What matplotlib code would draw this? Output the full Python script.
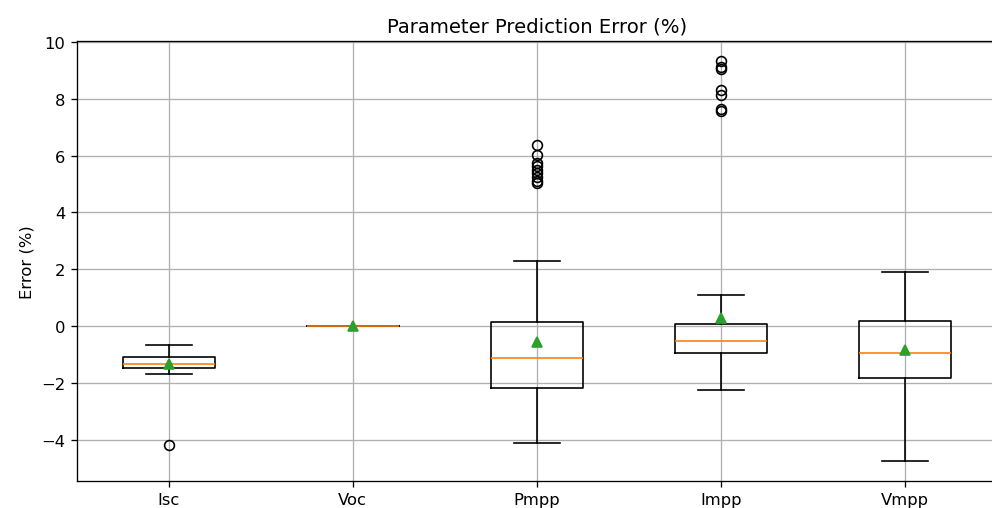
import matplotlib.pyplot as plt

params = ["Isc", "Voc", "Pmpp", "Impp", "Vmpp"]
q1 = [-1.48, 0.0, -2.17, -0.96, -1.84]
med = [-1.32, 0.0, -1.13, -0.53, -0.94]
q3 = [-1.09, 0.0, 0.15, 0.07, 0.17]
whislo = [-1.69, 0.0, -4.10, -2.25, -4.75]
whishi = [-0.67, 0.0, 2.28, 1.09, 1.89]
means = [-1.34, 0.0, -0.56, 0.27, -0.85]
fliers = [
    [-4.19],
    [],
    [6.38, 6.02, 5.74, 5.62, 5.50, 5.38, 5.25, 5.12, 5.03],
    [9.32, 9.10, 9.05, 8.32, 8.12, 7.62, 7.57],
    [],
]

stats = []
for i, name in enumerate(params):
    stats.append(dict(label=name, q1=q1[i], med=med[i], q3=q3[i],
                      whislo=whislo[i], whishi=whishi[i],
                      mean=means[i], fliers=fliers[i]))

fig = plt.figure(figsize=(992 / 118, 509 / 118), dpi=118)
ax = fig.add_axes([0.0776, 0.053, 0.927, 0.8645])
ax.bxp(stats, showmeans=True)
ax.set_ylim(-5.45, 10.03)
ax.set_title("Parameter Prediction Error (%)")
ax.set_ylabel("Error (%)")
ax.grid(True)

plt.savefig("out.png", dpi=118)
